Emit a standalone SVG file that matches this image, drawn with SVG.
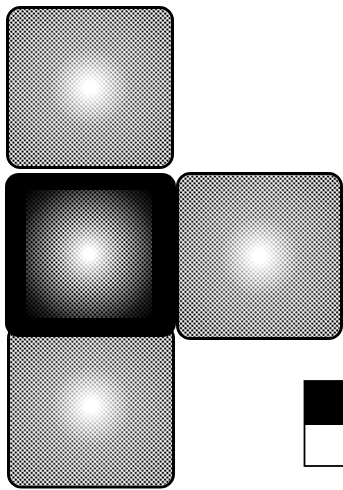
<svg xmlns="http://www.w3.org/2000/svg" width="343" height="490" viewBox="0 0 343 490">
<style>
.box{fill:#fff;stroke:#000;stroke-width:3}
.ht{fill:url(#dots);mask:url(#fade)}
.htd{fill:url(#dots);mask:url(#fadeDark)}
</style>
<defs>
<pattern id="dots" width="3.2" height="3.2" patternUnits="userSpaceOnUse" patternTransform="rotate(45)">
<circle cx="1.6" cy="1.6" r="1.25" fill="#000"/>
</pattern>
<radialGradient id="g1" cx="0.5" cy="0.5" r="0.62">
<stop offset="0" stop-color="#000"/>
<stop offset="0.06" stop-color="#000"/>
<stop offset="0.4" stop-color="#bbb"/>
<stop offset="1" stop-color="#fff"/>
</radialGradient>
<radialGradient id="g2" cx="0.5" cy="0.5" r="0.62">
<stop offset="0" stop-color="#000"/>
<stop offset="0.06" stop-color="#000"/>
<stop offset="0.45" stop-color="#fff"/>
<stop offset="1" stop-color="#fff"/>
</radialGradient>
<radialGradient id="dark" cx="0.5" cy="0.5" r="0.7">
<stop offset="0" stop-color="#000" stop-opacity="0"/>
<stop offset="0.4" stop-color="#000" stop-opacity="0"/>
<stop offset="0.8" stop-color="#000" stop-opacity="0.8"/>
<stop offset="1" stop-color="#000" stop-opacity="1"/>
</radialGradient>
<mask id="fade" maskContentUnits="objectBoundingBox"><rect x="0" y="0" width="1" height="1" fill="url(#g1)"/></mask>
<mask id="fadeDark" maskContentUnits="objectBoundingBox"><rect x="0" y="0" width="1" height="1" fill="url(#g2)"/></mask>
</defs>

<g id="node-top">
<rect class="box" x="7.5" y="7.5" width="165" height="160" rx="13"/>
<rect class="ht" x="9" y="9" width="162" height="157" rx="12"/>
</g>

<g id="node-right">
<rect class="box" x="177.5" y="173.5" width="164" height="165" rx="13"/>
<rect class="ht" x="179" y="175" width="161" height="162" rx="12"/>
</g>

<g id="node-bottom">
<rect class="box" x="8.5" y="325" width="165" height="162" rx="13"/>
<rect class="ht" x="10" y="326.5" width="162" height="159" rx="12"/>
</g>

<g id="node-center">
<rect x="5" y="173" width="171" height="164" rx="14" fill="#000"/>
<rect x="26" y="190" width="126" height="128" fill="#fff"/>
<rect class="htd" x="26" y="190" width="126" height="128"/>
<rect x="26" y="190" width="126" height="128" fill="url(#dark)"/>
</g>

<g id="connectors"></g>

<g id="legend">
<rect x="304.5" y="381" width="40" height="44" fill="#000"/>
<rect x="304.5" y="381" width="40" height="85" fill="none" stroke="#000" stroke-width="1.8"/>
</g>
</svg>
